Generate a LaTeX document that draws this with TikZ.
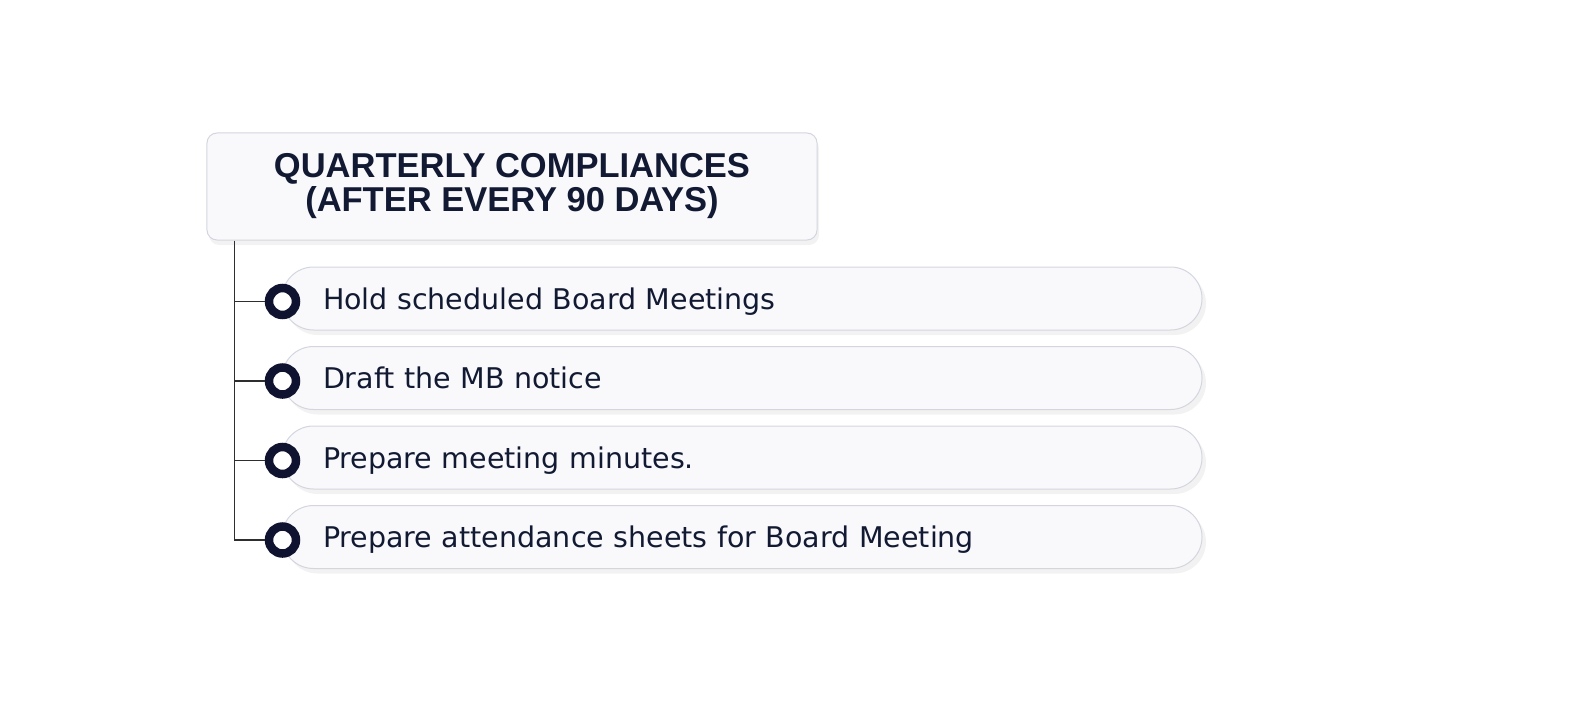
\documentclass[tikz,border=0pt]{standalone}
\usepackage{fontspec}
\setmainfont{Liberation Sans}
\newfontfamily\fuentepaso{DejaVu Sans}
\usepackage{tikz}
\usetikzlibrary{positioning,shadows}
\definecolor{tinta}{HTML}{121A33}
\definecolor{aro}{HTML}{10132F}
\definecolor{fondo}{HTML}{F9F9FB}
\definecolor{borde}{HTML}{D3D6DF}
\definecolor{rama}{HTML}{2E2E2E}
\tikzstyle{titulo}=[
	rectangle,
	rounded corners=10bp,
	draw=borde,
	fill=fondo,
	line width=1bp,
	minimum width=610bp,
	minimum height=107bp,
	align=center,
	text=tinta,
	font=\bfseries\fontsize{34.5bp}{34bp}\selectfont,
	drop shadow={opacity=0.1,shadow xshift=2bp,shadow yshift=-5bp}]
\tikzstyle{paso}=[
	rectangle,
	rounded corners=31.5bp,
	draw=borde,
	fill=fondo,
	line width=1bp,
	minimum height=63bp,
	text width=838bp,
	inner xsep=41bp,
	align=left,
	text height=21.6bp,
	text depth=0bp,
	text=tinta,
	font=\fuentepaso\fontsize{28.5bp}{34bp}\selectfont,
	drop shadow={opacity=0.1,shadow xshift=4bp,shadow yshift=-5bp}]
\tikzstyle{punto}=[
	circle,
	draw=aro,
	fill=white,
	line width=8.5bp,
	minimum size=27bp,
	inner sep=0]
\tikzstyle{enlace}=[
	draw=rama,
	line width=1.3bp]

\begin{document}
\begin{tikzpicture}[x=1bp,y=-1bp]
	\useasboundingbox (0,0) rectangle (1576,704);
	\node[titulo] (cabecera) at (512,186.5) {QUARTERLY COMPLIANCES\\(AFTER EVERY 90 DAYS)};
	\node[paso] (junta) at (742,298.5) {Hold scheduled Board Meetings};
	\node[paso] (aviso) [below=15.5bp of junta] {Draft the MB notice};
	\node[paso] (actas) [below=15.5bp of aviso] {Prepare meeting minutes.};
	\node[paso] (asistencia) [below=15.5bp of actas] {Prepare attendance sheets for Board Meeting};
	\node[punto] (p1) at ([shift={(1,3)}]junta.west) {};
	\node[punto] (p2) at ([shift={(1,3)}]aviso.west) {};
	\node[punto] (p3) at ([shift={(1,3)}]actas.west) {};
	\node[punto] (p4) at ([shift={(1,3)}]asistencia.west) {};
	\coordinate (tronco) at ([xshift=28bp]cabecera.south west);
	\draw[enlace] (tronco) |- (p4.west);
	\draw[enlace] (tronco |- p1) -- (p1.west);
	\draw[enlace] (tronco |- p2) -- (p2.west);
	\draw[enlace] (tronco |- p3) -- (p3.west);
\end{tikzpicture}
\end{document}
